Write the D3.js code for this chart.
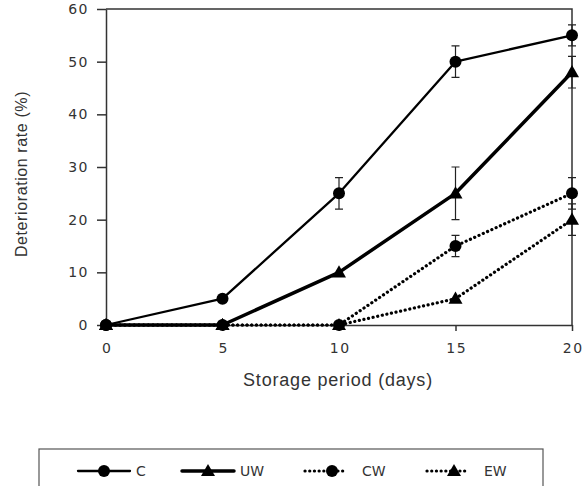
<!DOCTYPE html>
<html>
<head>
<meta charset="utf-8">
<script src="https://cdn.jsdelivr.net/npm/d3@7"></script>
<style>
  body { margin: 0; background: #fff; }
  text { font-family: "DejaVu Sans", Verdana, sans-serif; fill: #333; }
</style>
</head>
<body>
<svg id="chart"></svg>
<script>
// data
const days = [0, 5, 10, 15, 20];
const seriesNames = ["C", "UW", "CW", "EW"];
const valuesC  = [0, 5, 25, 50, 55];
const valuesUW = [0, 0, 10, 25, 48];
const valuesCW = [0, 0, 0, 15, 25];
const valuesEW = [0, 0, 0, 5, 20];
const errC  = [0, 0, 3, 3, 2];
const errUW = [0, 0, 0, 5, 3];
const errCW = [0, 0, 0, 2, 3];
const errEW = [0, 0, 0, 0, 3];
const yTicks = [0, 10, 20, 30, 40, 50, 60];
const xTicks = [0, 5, 10, 15, 20];

const width = 583, height = 486;
const marginLeft = 106, marginTop = 9, plotRight = 572, plotBottom = 325;

const svg = d3.select("#chart").attr("width", width).attr("height", height);

const x = d3.scaleLinear().domain([0, 20]).range([marginLeft, plotRight]);
const y = d3.scaleLinear().domain([0, 60]).range([plotBottom, marginTop]);

// series styles
const series = [
  { name: "C",  v: valuesC,  e: errC,  marker: "circle",   width: 2.3, dash: null },
  { name: "UW", v: valuesUW, e: errUW, marker: "triangle", width: 3.5, dash: null },
  { name: "CW", v: valuesCW, e: errCW, marker: "circle",   width: 3.2, dash: "0.1,4.6" },
  { name: "EW", v: valuesEW, e: errEW, marker: "triangle", width: 3.2, dash: "0.1,4.6" }
];

// frame (top and right)
svg.append("path")
  .attr("d", `M${marginLeft},${marginTop}H${plotRight}V${plotBottom}`)
  .attr("fill", "none").attr("stroke", "#333").attr("stroke-width", 1.5);

// axes
const yAxis = svg.append("g")
  .attr("transform", `translate(${marginLeft},0)`)
  .call(d3.axisLeft(y).tickValues(yTicks).tickSize(9).tickSizeOuter(0).tickPadding(8));
const xAxis = svg.append("g")
  .attr("transform", `translate(0,${plotBottom})`)
  .call(d3.axisBottom(x).tickValues(xTicks).tickSize(6).tickSizeOuter(0).tickPadding(12));
[yAxis, xAxis].forEach(g => {
  g.selectAll(".domain").attr("stroke", "#333").attr("stroke-width", 1.5);
  g.selectAll(".tick line").attr("stroke", "#333").attr("stroke-width", 1.5);
  g.selectAll(".tick text").style("font-size", "14px").style("letter-spacing", "1.5px")
    .attr("fill", "#444");
});
xAxis.selectAll(".tick text").attr("dx", "0.75px");

// axis titles
svg.append("text")
  .attr("x", 338).attr("y", 386)
  .attr("text-anchor", "middle")
  .style("font-family", "'Liberation Sans', Arial, sans-serif")
  .style("font-size", "18px").style("letter-spacing", "0.8px").attr("fill", "#444")
  .text("Storage period (days)");
svg.append("text")
  .attr("transform", `translate(27,174) rotate(-90)`)
  .attr("text-anchor", "middle")
  .style("font-family", "'Liberation Sans', Arial, sans-serif")
  .style("font-size", "16px").style("letter-spacing", "0.6px").attr("fill", "#444")
  .text("Deterioration rate (%)");

const tri = d3.symbol().type(d3.symbolTriangle).size(85);

function drawMarker(g, type, cx, cy) {
  if (type === "circle") {
    g.append("circle").attr("cx", cx).attr("cy", cy).attr("r", 6).attr("fill", "#000");
  } else {
    g.append("path").attr("d", tri).attr("transform", `translate(${cx},${cy + 1})`).attr("fill", "#000");
  }
}

// lines, error bars, markers
series.slice().reverse().forEach(s => {
  const pts = days.map((d, i) => [x(d), y(s.v[i])]);
  const line = d3.line();
  const p = svg.append("path")
    .attr("d", line(pts))
    .attr("fill", "none").attr("stroke", "#000")
    .attr("stroke-width", s.width).attr("stroke-linecap", "round")
    .attr("stroke-linejoin", "round");
  if (s.dash) p.attr("stroke-dasharray", s.dash);

  const g = svg.append("g");
  days.forEach((d, i) => {
    if (s.e[i] > 0) {
      const cx = x(d), hi = y(s.v[i] + s.e[i]), lo = y(s.v[i] - s.e[i]);
      g.append("path")
        .attr("d", `M${cx},${hi}V${lo}M${cx - 4},${hi}H${cx + 4}M${cx - 4},${lo}H${cx + 4}`)
        .attr("stroke", "#222").attr("stroke-width", 1.2).attr("fill", "none");
    }
    drawMarker(g, s.marker, x(d), y(s.v[i]));
  });
});

// legend
svg.append("rect")
  .attr("x", 39).attr("y", 449).attr("width", 504).attr("height", 60)
  .attr("fill", "none").attr("stroke", "#555").attr("stroke-width", 1.2);

const legendX = [78, 182, 305, 427];
const legendY = 471;
series.forEach((s, i) => {
  const lx = legendX[i];
  const g = svg.append("g");
  const p = g.append("line")
    .attr("x1", lx).attr("x2", lx + 52).attr("y1", legendY).attr("y2", legendY)
    .attr("stroke", "#000").attr("stroke-width", s.width).attr("stroke-linecap", "round");
  if (s.dash) p.attr("x2", lx + 42).attr("stroke-dasharray", s.dash);
  drawMarker(g, s.marker, lx + (s.dash ? 27 : 26), legendY);
  g.append("text")
    .attr("x", lx + (s.dash ? 57 : 58)).attr("y", legendY + 5)
    .style("font-size", "14px").attr("fill", "#444")
    .text(seriesNames[i]);
});
</script>
</body>
</html>
